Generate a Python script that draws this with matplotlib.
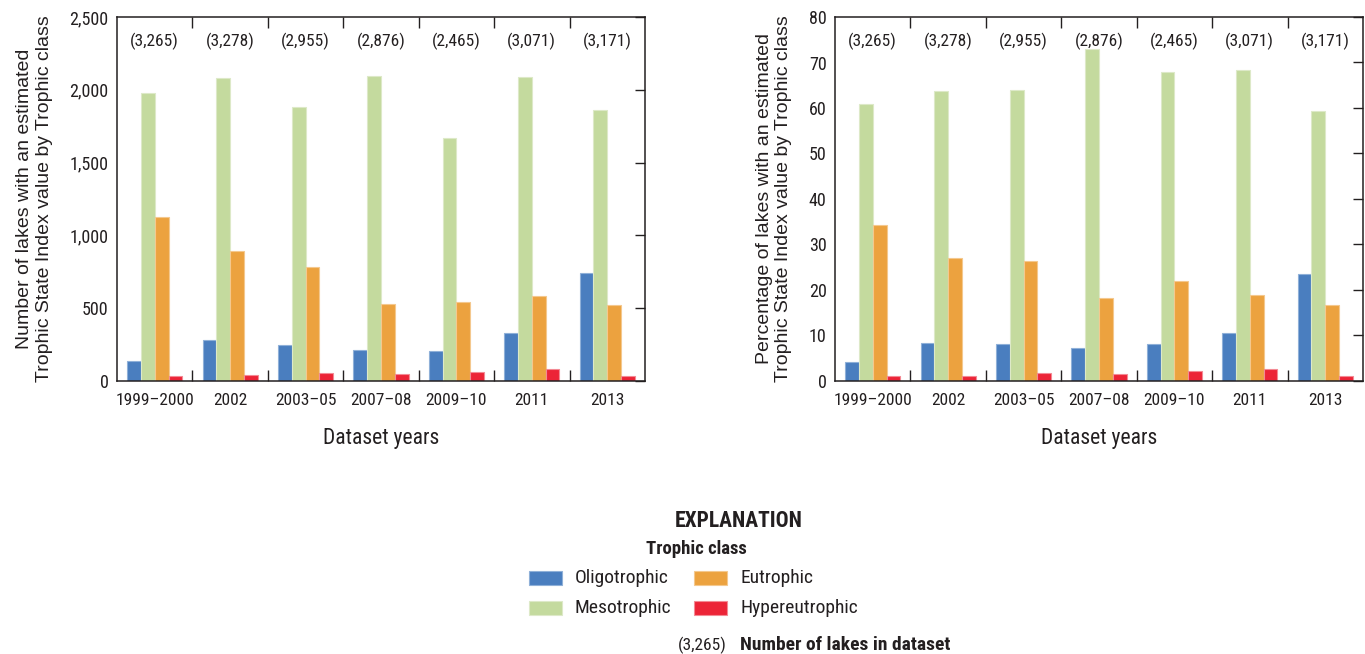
import matplotlib
matplotlib.use("Agg")
import matplotlib.pyplot as plt
from matplotlib import font_manager
from matplotlib.patches import Rectangle
import numpy as np


def pick_font(names):
    for n in names:
        try:
            font_manager.findfont(n, fallback_to_default=False)
            return n
        except Exception:
            continue
    return "DejaVu Sans"


NARROW = pick_font(["Liberation Sans Narrow", "DejaVu Sans Condensed", "Roboto Condensed", "Liberation Sans"])
REGULAR = pick_font(["Liberation Sans", "Roboto", "DejaVu Sans"])

# Data
years = ["1999\u20132000", "2002", "2003\u201305", "2007\u201308", "2009\u201310", "2011", "2013"]
lake_totals = ["(3,265)", "(3,278)", "(2,955)", "(2,876)", "(2,465)", "(3,071)", "(3,171)"]
classes = ["Oligotrophic", "Mesotrophic", "Eutrophic", "Hypereutrophic"]

count_oligo = [138, 280, 245, 216, 206, 330, 745]
count_meso = [1975, 2078, 1881, 2094, 1670, 2087, 1860]
count_eutro = [1126, 890, 782, 532, 544, 585, 525]
count_hyper = [37, 44, 53, 50, 60, 80, 34]

pct_oligo = [4.2, 8.4, 8.2, 7.3, 8.2, 10.6, 23.5]
pct_meso = [60.8, 63.7, 64.0, 73.0, 68.0, 68.3, 59.4]
pct_eutro = [34.3, 27.0, 26.3, 18.3, 21.9, 18.9, 16.6]
pct_hyper = [1.0, 1.2, 1.7, 1.6, 2.2, 2.6, 1.0]

colors = ["#4a7ebf", "#c4da9e", "#eca23f", "#ec2437"]
edge_colors = ["#8fb0d8", "#dde9c8", "#f4c88e", "#f38a94"]

W, H = 1365, 654
fig = plt.figure(figsize=(W / 100, H / 100), dpi=100)


def fx(px):
    return px / W


def fy(py):
    return 1 - py / H


def panel(left_px, right_px, series, ymax, ystep, yfmt, ylabel):
    top_px, bottom_px = 17, 381
    ax = fig.add_axes([fx(left_px), fy(bottom_px), fx(right_px - left_px), (bottom_px - top_px) / H])
    x = np.arange(len(years))
    bw = 0.183
    offsets = (np.arange(4) - 1.5) * bw
    for vals, off, c, ec in zip(series, offsets, colors, edge_colors):
        ax.bar(x + off, vals, width=bw, color=c, edgecolor=ec, linewidth=0.8)
    ax.set_xlim(-0.5, len(years) - 0.5)
    ax.set_ylim(0, ymax)
    ticks = np.arange(0, ymax + ystep / 2, ystep)
    ax.set_yticks(ticks)
    ax.set_yticklabels([yfmt(v) for v in ticks], fontfamily=NARROW, fontsize=13, color="#231f20")
    ax.tick_params(axis="y", left=False, right=True, direction="in", length=7,
                   width=1, labelleft=True, pad=6, color="#231f20")
    ax.set_xticks(x)
    ax.set_xticklabels(years, fontfamily=NARROW, fontsize=12.5, color="#231f20")
    ax.tick_params(axis="x", which="major", length=0, pad=9)
    ax.set_xticks(np.arange(0.5, len(years) - 0.5, 1), minor=True)
    ax.tick_params(axis="x", which="minor", bottom=True, top=True, direction="in",
                   length=8, width=1, color="#231f20")
    for s in ax.spines.values():
        s.set_linewidth(1.1)
        s.set_color("#231f20")
    for xi, t in zip(x, lake_totals):
        ax.text(xi, 0.934, t, transform=ax.get_xaxis_transform(), ha="center", va="center",
                fontfamily=NARROW, fontsize=12.5, color="#231f20")
    ax.set_xlabel("Dataset years", fontfamily=NARROW, fontsize=15.5, color="#231f20", labelpad=14)
    ax.set_ylabel(ylabel, fontfamily=REGULAR, fontsize=14, color="#231f20", labelpad=12,
                  linespacing=1.2)
    return ax


panel(117, 645, [count_oligo, count_meso, count_eutro, count_hyper], 2500, 500,
      lambda v: f"{int(v):,}",
      "Number of lakes with an estimated\nTrophic State Index value by Trophic class")
panel(835, 1363, [pct_oligo, pct_meso, pct_eutro, pct_hyper], 80, 10,
      lambda v: f"{int(v)}",
      "Percentage of lakes with an estimated\nTrophic State Index value by Trophic class")

# Explanation block
txt = "#231f20"
fig.text(fx(739), fy(521), "EXPLANATION", ha="center", va="center", fontfamily=NARROW,
         fontweight="bold", fontsize=15.5, color=txt)
fig.text(fx(696), fy(549), "Trophic class", ha="center", va="center", fontfamily=NARROW,
         fontweight="bold", fontsize=13.5, color=txt)

legend_pos = [(529, 578), (529, 608), (694, 578), (694, 608)]
for name, (px, py), c, ec in zip(classes, legend_pos, colors, edge_colors):
    fig.patches.append(Rectangle((fx(px), fy(py + 7)), fx(33), 14 / H, transform=fig.transFigure,
                                 facecolor=c, edgecolor=ec, linewidth=0.8))
    fig.text(fx(px + 46), fy(py), name, ha="left", va="center", fontfamily=NARROW,
             fontsize=14, color=txt)

fig.text(fx(727), fy(645), lake_totals[0], ha="right", va="center", fontfamily=NARROW,
         fontsize=12.5, color=txt)
fig.text(fx(740), fy(645), "Number of lakes in dataset", ha="left", va="center",
         fontfamily=NARROW, fontweight="bold", fontsize=14, color=txt)

fig.savefig("out.png", dpi=100, facecolor="white")
